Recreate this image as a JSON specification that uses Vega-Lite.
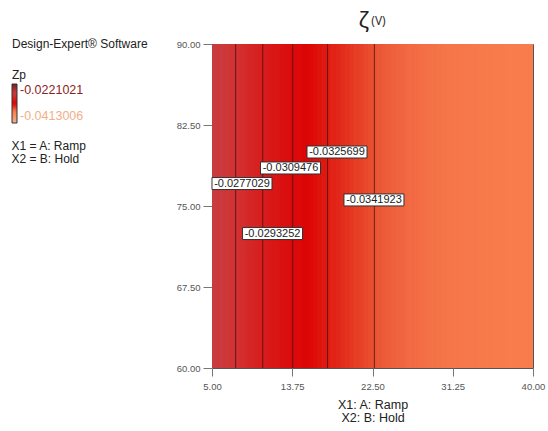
{
  "$schema": "https://vega.github.io/schema/vega-lite/v6.json",
  "width": 321,
  "height": 324,
  "autosize": "none",
  "padding": {"left": 212, "top": 44, "right": 15, "bottom": 63},
  "background": "white",
  "resolve": {"axis": {"x": "independent"}},
  "config": {
    "font": "Liberation Sans",
    "locale": {"number": {"decimal": ".", "thousands": ",", "grouping": [3], "currency": ["$", ""], "minus": "-"}},
    "view": {"stroke": "#555555", "strokeWidth": 1}
  },
  "datasets": {
    "strips": [
      {"a": 5.0, "b": 5.5, "z": -0.026305},
      {"a": 5.5, "b": 6.0, "z": -0.026605},
      {"a": 6.0, "b": 6.5, "z": -0.026905},
      {"a": 6.5, "b": 7.0, "z": -0.027205},
      {"a": 7.0, "b": 7.5, "z": -0.027505},
      {"a": 7.5, "b": 8.0, "z": -0.027796},
      {"a": 8.0, "b": 8.5, "z": -0.028071},
      {"a": 8.5, "b": 9.0, "z": -0.028346},
      {"a": 9.0, "b": 9.5, "z": -0.028621},
      {"a": 9.5, "b": 10.0, "z": -0.028896},
      {"a": 10.0, "b": 10.5, "z": -0.029171},
      {"a": 10.5, "b": 11.0, "z": -0.029434},
      {"a": 11.0, "b": 11.5, "z": -0.029682},
      {"a": 11.5, "b": 12.0, "z": -0.02993},
      {"a": 12.0, "b": 12.5, "z": -0.030178},
      {"a": 12.5, "b": 13.0, "z": -0.030426},
      {"a": 13.0, "b": 13.5, "z": -0.030674},
      {"a": 13.5, "b": 14.0, "z": -0.030922},
      {"a": 14.0, "b": 14.5, "z": -0.03114},
      {"a": 14.5, "b": 15.0, "z": -0.031353},
      {"a": 15.0, "b": 15.5, "z": -0.031567},
      {"a": 15.5, "b": 16.0, "z": -0.03178},
      {"a": 16.0, "b": 16.5, "z": -0.031994},
      {"a": 16.5, "b": 17.0, "z": -0.032207},
      {"a": 17.0, "b": 17.5, "z": -0.032421},
      {"a": 17.5, "b": 18.0, "z": -0.032618},
      {"a": 18.0, "b": 18.5, "z": -0.032777},
      {"a": 18.5, "b": 19.0, "z": -0.032936},
      {"a": 19.0, "b": 19.5, "z": -0.033095},
      {"a": 19.5, "b": 20.0, "z": -0.033254},
      {"a": 20.0, "b": 20.5, "z": -0.033413},
      {"a": 20.5, "b": 21.0, "z": -0.033572},
      {"a": 21.0, "b": 21.5, "z": -0.033731},
      {"a": 21.5, "b": 22.0, "z": -0.03389},
      {"a": 22.0, "b": 22.5, "z": -0.034049},
      {"a": 22.5, "b": 23.0, "z": -0.034206},
      {"a": 23.0, "b": 23.5, "z": -0.034339},
      {"a": 23.5, "b": 24.0, "z": -0.034459},
      {"a": 24.0, "b": 24.5, "z": -0.034569},
      {"a": 24.5, "b": 25.0, "z": -0.034669},
      {"a": 25.0, "b": 25.5, "z": -0.03476},
      {"a": 25.5, "b": 26.0, "z": -0.034843},
      {"a": 26.0, "b": 26.5, "z": -0.034919},
      {"a": 26.5, "b": 27.0, "z": -0.034988},
      {"a": 27.0, "b": 27.5, "z": -0.03505},
      {"a": 27.5, "b": 28.0, "z": -0.035108},
      {"a": 28.0, "b": 28.5, "z": -0.03516},
      {"a": 28.5, "b": 29.0, "z": -0.035207},
      {"a": 29.0, "b": 29.5, "z": -0.03525},
      {"a": 29.5, "b": 30.0, "z": -0.03529},
      {"a": 30.0, "b": 30.5, "z": -0.035326},
      {"a": 30.5, "b": 31.0, "z": -0.035358},
      {"a": 31.0, "b": 31.5, "z": -0.035388},
      {"a": 31.5, "b": 32.0, "z": -0.035415},
      {"a": 32.0, "b": 32.5, "z": -0.03544},
      {"a": 32.5, "b": 33.0, "z": -0.035462},
      {"a": 33.0, "b": 33.5, "z": -0.035483},
      {"a": 33.5, "b": 34.0, "z": -0.035501},
      {"a": 34.0, "b": 34.5, "z": -0.035518},
      {"a": 34.5, "b": 35.0, "z": -0.035534},
      {"a": 35.0, "b": 35.5, "z": -0.035548},
      {"a": 35.5, "b": 36.0, "z": -0.035561},
      {"a": 36.0, "b": 36.5, "z": -0.035572},
      {"a": 36.5, "b": 37.0, "z": -0.035583},
      {"a": 37.0, "b": 37.5, "z": -0.035593},
      {"a": 37.5, "b": 38.0, "z": -0.035602},
      {"a": 38.0, "b": 38.5, "z": -0.03561},
      {"a": 38.5, "b": 39.0, "z": -0.035617},
      {"a": 39.0, "b": 39.5, "z": -0.035624},
      {"a": 39.5, "b": 40.0, "z": -0.03563}
    ],
    "contours": [
      {"level": -0.0277029, "x": 7.58, "lx": 8.27, "ly": 77.08},
      {"level": -0.0293252, "x": 10.53, "lx": 11.6, "ly": 72.45},
      {"level": -0.0309476, "x": 13.8, "lx": 13.56, "ly": 78.52},
      {"level": -0.0325699, "x": 17.6, "lx": 18.63, "ly": 80.0},
      {"level": -0.0341923, "x": 22.7, "lx": 22.66, "ly": 75.56}
    ]
  },
  "layer": [
    {
      "data": {"name": "strips"},
      "mark": {"type": "rect", "x2Offset": 0.7, "clip": true},
      "encoding": {
        "x": {
          "field": "a",
          "type": "quantitative",
          "scale": {"domain": [5, 40], "nice": false, "zero": false},
          "axis": {
            "values": [5, 13.75, 22.5, 31.25, 40],
            "format": ".2f",
            "title": ["X1: A: Ramp", "X2: B: Hold"],
            "grid": false,
            "domain": false,
            "tickSize": 8,
            "tickColor": "#777777",
            "labelColor": "#555555",
            "labelFontSize": 9.5,
            "labelPadding": 5,
            "labelFlush": false,
            "titleFontSize": 12.5,
            "titleFontWeight": "normal",
            "titleColor": "#222222",
            "titlePadding": 8,
            "titleLineHeight": 13
          }
        },
        "x2": {"field": "b"},
        "y": {
          "datum": 60,
          "type": "quantitative",
          "scale": {"domain": [60, 90], "nice": false, "zero": false},
          "axis": {
            "values": [60, 67.5, 75, 82.5, 90],
            "format": ".2f",
            "title": ["X1 = A: Ramp", "X2 = B: Hold"],
            "titleAngle": 0,
            "titleAlign": "left",
            "titleBaseline": "top",
            "titleX": -201,
            "titleY": 96,
            "titleLineHeight": 13,
            "titleFontSize": 12,
            "titleFontWeight": "normal",
            "titleColor": "#222222",
            "grid": false,
            "domain": false,
            "tickSize": 9,
            "tickColor": "#777777",
            "labelColor": "#555555",
            "labelFontSize": 9.5,
            "labelPadding": 3,
            "labelFlush": false
          }
        },
        "y2": {"datum": 90},
        "color": {
          "field": "z",
          "type": "quantitative",
          "scale": {
            "domain": [-0.0413006, -0.0356, -0.035, -0.0342, -0.0326, -0.0316, -0.0293, -0.0277, -0.0263, -0.0221021],
            "range": ["#f6b08a", "#f87c4c", "#f26a44", "#ea5232", "#e01c12", "#dc0404", "#d81c1c", "#d23232", "#c83c40", "#7a1e1e"],
            "interpolate": "rgb"
          },
          "legend": {
            "type": "gradient",
            "title": ["Design-Expert® Software", "Zp"],
            "orient": "none",
            "legendX": -200,
            "legendY": -5,
            "direction": "vertical",
            "gradientLength": 39,
            "gradientThickness": 5,
            "gradientStrokeColor": "#333333",
            "gradientStrokeWidth": 1,
            "values": [-0.0413006, -0.0221021],
            "format": ".7f",
            "labelFontSize": 12.5,
            "labelOffset": 3,
            "labelOverlap": false,
            "titleFontSize": 12,
            "titleFontWeight": "normal",
            "titleColor": "#222222",
            "titleLineHeight": 31,
            "titlePadding": 2,
            "padding": 0,
            "encode": {"labels": {"update": {"fill": {"signal": "datum.value > -0.03 ? '#8a2424' : '#f2ae88'"}}}}
          }
        }
      }
    },
    {
      "data": {"name": "contours"},
      "mark": {"type": "rule", "color": "#4a1010", "strokeWidth": 1, "opacity": 0.8},
      "encoding": {
        "x": {
          "field": "x",
          "type": "quantitative",
          "axis": {
            "orient": "top",
            "title": "(V)",
            "labels": false,
            "ticks": false,
            "domain": false,
            "grid": false,
            "titleFont": "Noto Sans",
            "titleFontSize": 12,
            "titleFontWeight": "normal",
            "titleColor": "#333333",
            "titleX": 166,
            "titleY": -20,
            "titleAlign": "center",
            "titleBaseline": "alphabetic"
          }
        },
        "y": {"datum": 60, "type": "quantitative"},
        "y2": {"datum": 90}
      }
    },
    {
      "data": {"name": "contours"},
      "mark": {"type": "point", "shape": "M-1,-0.2H1V0.2H-1Z", "size": 3600, "filled": true, "fill": "white", "stroke": "#333333", "strokeWidth": 1, "opacity": 1},
      "encoding": {
        "x": {
          "field": "lx",
          "type": "quantitative",
          "axis": {
            "orient": "top",
            "title": "ζ",
            "labels": false,
            "ticks": false,
            "domain": false,
            "grid": false,
            "titleFont": "Noto Sans",
            "titleFontSize": 22,
            "titleFontWeight": "normal",
            "titleColor": "#222222",
            "titleX": 151,
            "titleY": -17,
            "titleAlign": "center",
            "titleBaseline": "alphabetic"
          }
        },
        "y": {"field": "ly", "type": "quantitative"}
      }
    },
    {
      "data": {"name": "contours"},
      "mark": {"type": "text", "fontSize": 11, "color": "#222222", "baseline": "middle", "align": "center"},
      "encoding": {
        "x": {"field": "lx", "type": "quantitative", "axis": null},
        "y": {"field": "ly", "type": "quantitative"},
        "text": {"field": "level", "type": "quantitative", "format": ".7f"}
      }
    }
  ]
}
